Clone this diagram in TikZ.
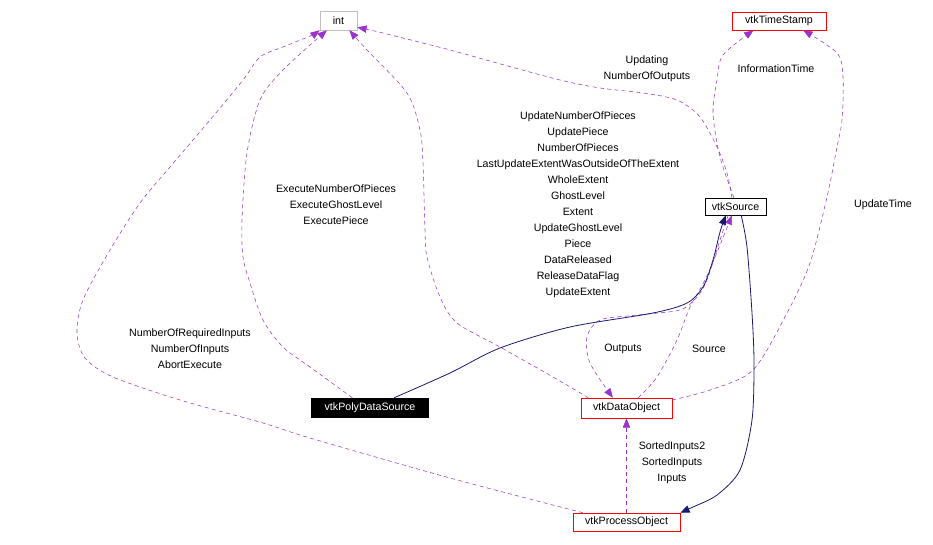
\documentclass[tikz,border=0pt]{standalone}
\usepackage{fontspec}
\setmainfont{Liberation Sans}
\usepackage{tikz}
\usetikzlibrary{arrows.meta}
\definecolor{usecol}{HTML}{9A32CD}
\definecolor{inhcol}{HTML}{191970}
\definecolor{gray75}{HTML}{BFBFBF}
\tikzstyle{usage} = [draw=usecol, dash pattern=on 3pt off 2.5pt, -{Triangle[length=7pt,width=5.5pt]}, usecol]
\tikzstyle{inherit} = [draw=inhcol, semithick, -{Triangle[length=7pt,width=5.5pt]}, inhcol]
\tikzstyle{classBox} = [rectangle, draw=red, fill=white, minimum height=13.5pt, inner sep=0pt, text=black]
\tikzstyle{lbl} = [align=center, inner sep=0pt, text=black]

\begin{document}
\begin{tikzpicture}[x=0.75pt, y=-0.75pt, font=\fontsize{8}{12}\selectfont]
		\useasboundingbox (0,0) rectangle (933,544);
		% classes
		\node (int) [classBox, draw=gray75, minimum width=27.75pt, minimum height=14.25pt] at (338.5,20.5) {int};
		\node (stamp) [classBox, minimum width=70.5pt] at (779,21) {vtkTimeStamp};
		\node (src) [classBox, draw=black, minimum width=45.75pt, minimum height=12.75pt] at (735.5,206.5) {vtkSource};
		\node (pds) [classBox, draw=black, fill=black, text=white, minimum width=87.75pt, minimum height=14.25pt] at (370,407.5) {vtkPolyDataSource};
		\node (dobj) [classBox, minimum width=68.25pt, minimum height=15pt] at (626.5,408) {vtkDataObject};
		\node (proc) [classBox, minimum width=80.25pt] at (626.5,522) {vtkProcessObject};
		% member labels
		\node (lexec) [lbl] at (336,205) {ExecuteNumberOfPieces\\ExecuteGhostLevel\\ExecutePiece};
		\node (linputs) [lbl] at (190,349) {NumberOfRequiredInputs\\NumberOfInputs\\AbortExecute};
		\node (lpieces) [lbl] at (578,205) {UpdateNumberOfPieces\\UpdatePiece\\NumberOfPieces\\LastUpdateExtentWasOutsideOfTheExtent\\WholeExtent\\GhostLevel\\Extent\\UpdateGhostLevel\\Piece\\DataReleased\\ReleaseDataFlag\\UpdateExtent};
		\node (lupd) [lbl] at (647,69) {Updating\\NumberOfOutputs};
		\node (linfo) [lbl] at (776,69) {InformationTime};
		\node (lutime) [lbl] at (883,205) {UpdateTime};
		\node (lout) [lbl] at (623,349) {Outputs};
		\node (lsrc) [lbl] at (709,349) {Source};
		\node (lsorted) [lbl] at (672,463) {SortedInputs2\\SortedInputs\\Inputs};
		% usage relations
		\draw [usage] plot[smooth] coordinates {(pds.151) (310,367) (283,347) (263,320) (250,283) (243,257) (242,220) (247,153) (260,100) (283,70) (int.220)};
		\draw [usage] plot[smooth] coordinates {(proc.168) (450,478) (310,438) (263,423) (180,400) (113,377) (85,358) (77,333) (83,300) (110,250) (140,203) (170,167) (210,120) (243,80) (260,57) (283,47) (310,36) (int.south west)};
		\draw [usage] plot[smooth] coordinates {(dobj.165) (560,381) (500,347) (457,323) (440,297) (427,257) (425,230) (423,163) (420,130) (407,93) (367,50) (int.318)};
		\draw [usage] plot[smooth] coordinates {(src.112) (727,173) (717,147) (700,117) (677,100) (643,93) (600,88) (560,80) (497,63) (450,50) (383,33) (int.340)};
		\draw [usage] plot[smooth] coordinates {(src.100) (720,157) (713,113) (717,80) (723,55) (stamp.200)};
		\draw [usage] plot[smooth] coordinates {(dobj.10) (710,390) (753,370) (787,313) (810,263) (827,197) (837,147) (842,120) (843,77) (837,53) (stamp.339)};
		\draw [usage] plot[smooth] coordinates {(dobj.41) (657,377) (677,340) (690,307) (705,280) (718,250) (src.248)};
		\draw [usage] plot[smooth] coordinates {(src.230) (720,240) (707,280) (697,297) (680,310) (637,315) (600,320) (587,337) (590,363) (dobj.143)};
		\draw [usage] (proc.north) -- (dobj.south);
		% inheritance
		\draw [inherit] plot[smooth] coordinates {(pds.22) (450,373) (500,348) (570,327) (653,313) (687,303) (703,287) (713,260) (720,232) (src.222)};
		\draw [inherit] plot[smooth] coordinates {(src.303) (747,247) (752,313) (754,363) (752,420) (740,470) (717,495) (693,507) (proc.north east)};
	\end{tikzpicture}
\end{document}
